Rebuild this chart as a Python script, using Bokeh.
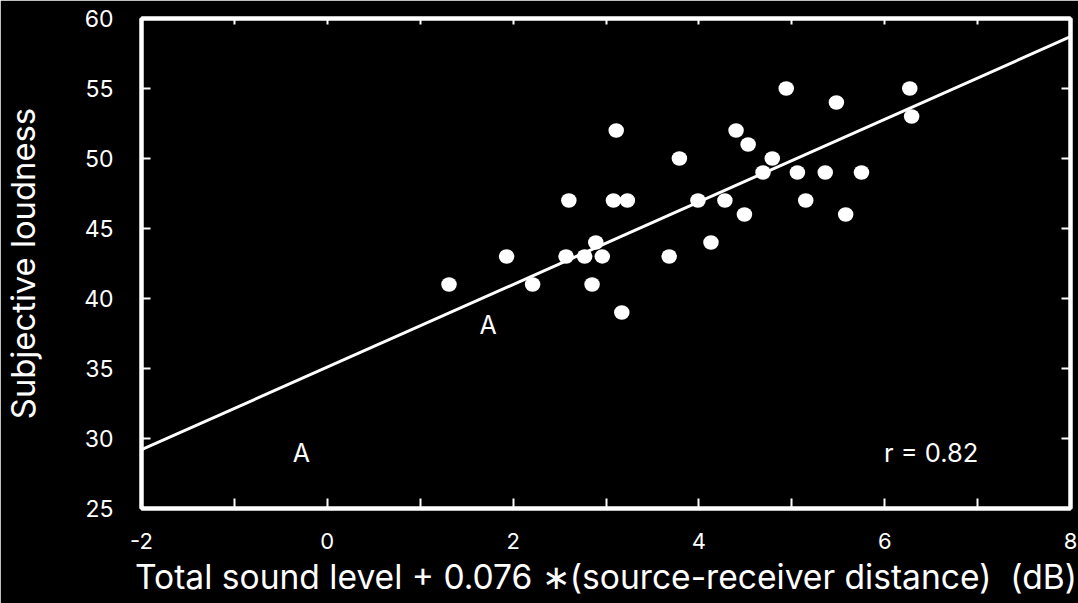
from bokeh.plotting import figure
from bokeh.models import Range1d, FixedTicker, LinearAxis, Slope, Label, ColumnDataSource
from bokeh.embed import file_html
from bokeh.resources import INLINE

# Listener data: corrected sound level vs. judged loudness
level = [1.31, 1.93, 2.21, 2.57, 2.60, 2.77, 2.85, 2.89, 2.96, 3.08, 3.11, 3.17,
         3.23, 3.68, 3.79, 3.99, 4.13, 4.28, 4.40, 4.49, 4.53, 4.69, 4.79, 4.94,
         5.06, 5.15, 5.36, 5.48, 5.58, 5.75, 6.27, 6.29]
loudness = [41, 43, 41, 43, 47, 43, 41, 44, 43, 47, 52, 39,
            47, 43, 50, 47, 44, 47, 52, 46, 51, 49, 50, 55,
            49, 47, 49, 54, 46, 49, 55, 53]

# Regression line
fit_slope = 2.95
fit_intercept = 35.1
r_label = "r = 0.82"
r_pos = (6.5, 29.0)

# Marker annotations
mark_x = [-0.28, 1.73]
mark_y = [29.0, 38.1]
mark_text = ["A", "A"]

x_major = [-2, 0, 2, 4, 6, 8]
x_minor = [-1, 1, 3, 5, 7]
y_major = [25, 30, 35, 40, 45, 50, 55, 60]

FONT = "Inter"
FG = "white"

p = figure(width=1078, height=603, output_backend="svg", toolbar_location=None,
           x_range=Range1d(-2, 8), y_range=Range1d(25, 60),
           x_axis_location=None, y_axis_location=None,
           min_border_left=140, min_border_right=8, min_border_top=18,
           min_border_bottom=95)
p.background_fill_color = "black"
p.border_fill_color = "black"
p.outline_line_color = FG
p.outline_line_width = 4
p.xgrid.visible = False
p.ygrid.visible = False


def style(ax, tick_len, show_labels, size):
    ax.axis_line_color = FG
    ax.axis_line_width = 4
    ax.major_tick_in = tick_len
    ax.major_tick_out = 0
    ax.minor_tick_in = tick_len
    ax.minor_tick_out = 0
    ax.major_tick_line_color = FG
    ax.minor_tick_line_color = FG
    ax.major_tick_line_width = 2
    ax.minor_tick_line_width = 2
    ax.major_label_text_font = FONT
    if show_labels:
        ax.major_label_text_color = FG
        ax.major_label_text_font_size = size
    else:
        # mirrored sides carry ticks only
        ax.major_label_text_color = None
        ax.major_label_text_font_size = "1px"
        ax.major_label_standoff = 0


xt = FixedTicker(ticks=x_major, minor_ticks=x_minor)
yt = FixedTicker(ticks=y_major, minor_ticks=[])

bottom = LinearAxis(ticker=xt)
style(bottom, 10, True, "22px")
bottom.major_label_standoff = 24
bottom.major_label_overrides = {-2: "-2"}
bottom.axis_label = "Total sound level + 0.076 \u2217(source-receiver distance)\u00a0 (dB)"
bottom.axis_label_text_font = FONT
bottom.axis_label_text_font_size = "33.6px"
bottom.axis_label_text_font_style = "normal"
bottom.axis_label_text_color = FG
bottom.axis_label_standoff = 4
p.add_layout(bottom, "below")

top = LinearAxis(ticker=xt)
style(top, 6, False, "1px")
p.add_layout(top, "above")

left = LinearAxis(ticker=yt)
style(left, 9, True, "23px")
left.major_label_standoff = 28
left.axis_label = "Subjective loudness"
left.axis_label_text_font = FONT
left.axis_label_text_font_size = "32.8px"
left.axis_label_text_font_style = "normal"
left.axis_label_text_color = FG
left.axis_label_standoff = 38
p.add_layout(left, "left")

right = LinearAxis(ticker=yt)
style(right, 9, False, "1px")
p.add_layout(right, "right")

src = ColumnDataSource(data=dict(x=level, y=loudness))
p.ellipse(x="x", y="y", width=15.5, height=14.5, width_units="screen",
          height_units="screen", source=src, fill_color=FG, line_color=None)

p.add_layout(Slope(gradient=fit_slope, y_intercept=fit_intercept,
                   line_color=FG, line_width=3))

for mx, my, mt in zip(mark_x, mark_y, mark_text):
    p.add_layout(Label(x=mx, y=my, text=mt, text_color=FG, text_font=FONT,
                       text_font_size="25px", text_align="center",
                       text_baseline="middle"))

p.add_layout(Label(x=r_pos[0], y=r_pos[1], text=r_label, text_color=FG,
                   text_font=FONT, text_font_size="25.5px", text_align="center",
                   text_baseline="middle"))

open("out.html", "w").write(file_html(p, INLINE))
